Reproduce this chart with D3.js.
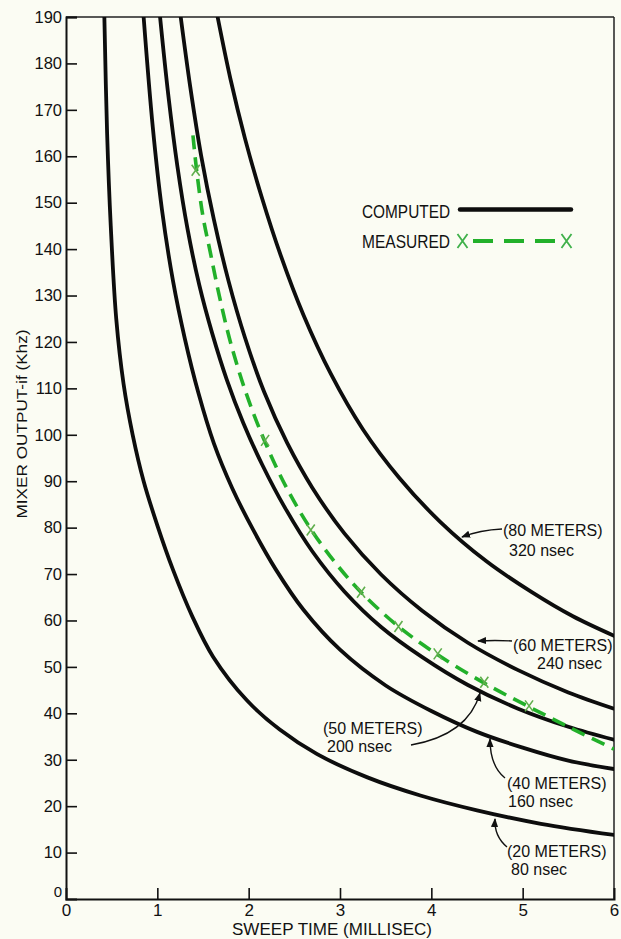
<!DOCTYPE html>
<html>
<head>
<meta charset="utf-8">
<script src="https://cdn.jsdelivr.net/npm/d3@7"></script>
<style>
  html, body { margin: 0; padding: 0; background: #fbfcf3; }
  svg { display: block; }
  text { font-family: "Liberation Sans", Arial, sans-serif; fill: #111; }
</style>
</head>
<body>
<svg id="chart" width="621" height="939"></svg>
<script>
// ---------- data ----------
const xTicks = [0, 1, 2, 3, 4, 5, 6];
const yTicks = [10,20,30,40,50,60,70,80,90,100,110,120,130,140,150,160,170,180,190];

// computed curves: sweep time (ms) vs mixer output if (kHz)
const t20 = [0.42, 0.45, 0.49, 0.55, 0.63, 0.73, 0.85, 1.00, 1.17, 1.38, 1.61, 1.98, 2.34, 2.75, 3.30, 3.88, 4.50, 5.20, 6.00];
const f20 = [190, 165, 145, 125, 111, 100, 90, 80.5, 71, 61, 52.2, 42.8, 36.5, 31.2, 26.2, 22.3, 19.1, 16.2, 13.8];

const t40 = [0.85, 0.95, 1.05, 1.17, 1.30, 1.45, 1.62, 1.82, 2.05, 2.30, 2.60, 3.00, 3.50, 4.00, 4.50, 5.00, 5.50, 6.00];
const f40 = [190, 166.3, 148.6, 133.3, 120.8, 109.0, 98.1, 88.5, 79.5, 70.9, 62.3, 53.7, 46.0, 40.5, 36.0, 32.6, 29.8, 28.0];

const t50 = [1.03, 1.12, 1.22, 1.33, 1.46, 1.60, 1.76, 1.94, 2.15, 2.40, 2.70, 3.05, 3.45, 3.90, 4.40, 4.95, 5.50, 6.00];
const f50 = [190, 173.2, 157.8, 144.4, 132.2, 121.9, 111.9, 102.6, 93.5, 84.2, 74.8, 66.2, 58.6, 52.1, 46.1, 41.0, 37.1, 34.3];

const t60 = [1.256, 1.36, 1.48, 1.62, 1.78, 1.96, 2.17, 2.42, 2.70, 3.05, 3.45, 3.90, 4.40, 4.95, 5.50, 6.00];
const f60 = [190, 175.0, 160.1, 146.3, 133.1, 120.9, 109.2, 98.3, 88.5, 78.7, 69.9, 62.1, 55.2, 49.3, 44.5, 41.0];

const t80 = [1.66, 1.80, 1.96, 2.14, 2.35, 2.60, 2.90, 3.25, 3.65, 4.10, 4.60, 5.10, 5.55, 6.00];
const f80 = [190, 176.7, 163.8, 151.4, 138.7, 125.8, 113.1, 101.2, 90.7, 81.2, 72.8, 66.1, 60.9, 56.7];

// measured (dashed) line and its X points
const tMeasLine = [1.39, 1.43, 1.50, 1.58, 1.68, 1.80, 1.97, 2.18, 2.42, 2.68, 2.95, 3.23, 3.64, 4.07, 4.58, 5.07, 5.55, 6.00];
const fMeasLine = [164.5, 157, 147, 139.3, 129.8, 120.0, 109.1, 98.4, 88.4, 79.7, 72.4, 66.1, 58.7, 52.6, 46.5, 41.4, 36.6, 32.3];
const tMeasPts = [1.42, 2.18, 2.68, 3.23, 3.64, 4.07, 4.58, 5.07];
const fMeasPts = [157, 98.8, 79.5, 66.1, 58.7, 52.8, 46.7, 41.6];

const curveNames = ["(20 METERS)", "(40 METERS)", "(50 METERS)", "(60 METERS)", "(80 METERS)"];
const curveDelays = ["80 nsec", "160 nsec", "200 nsec", "240 nsec", "320 nsec"];

// ---------- drawing ----------
const svg = d3.select("#chart");
const L = 66, R = 614, T = 17, B = 899;
const x = d3.scaleLinear().domain([0, 6]).range([L, R]);
const y = d3.scaleLinear().domain([0, 190]).range([B, T]);

const zip = (ts, fs) => ts.map((t, i) => [t, fs[i]]);
const line = d3.line().x(d => x(d[0])).y(d => y(d[1])).curve(d3.curveCatmullRom.alpha(0.5));

const defs = svg.append("defs");
defs.append("clipPath").attr("id", "clip")
  .append("rect").attr("x", L).attr("y", T).attr("width", R - L).attr("height", B - T);
defs.append("marker").attr("id", "arr").attr("viewBox", "0 0 10 10")
  .attr("refX", 9).attr("refY", 5).attr("markerWidth", 9).attr("markerHeight", 9)
  .attr("markerUnits", "userSpaceOnUse").attr("orient", "auto")
  .append("path").attr("d", "M0,1 L10,5 L0,9 Z").attr("fill", "#111");

// frame
svg.append("line").attr("x1", L).attr("x2", R).attr("y1", T).attr("y2", T).attr("stroke", "#222").attr("stroke-width", 1.5);
svg.append("line").attr("x1", R).attr("x2", R).attr("y1", T).attr("y2", B).attr("stroke", "#222").attr("stroke-width", 1.5);

// y axis
const yAxis = d3.axisLeft(y).tickValues(yTicks).tickSize(-11).tickPadding(15).tickFormat(d3.format("d"));
const gy = svg.append("g").attr("transform", `translate(${L},0)`).call(yAxis);
gy.select(".domain").attr("stroke", "#111").attr("stroke-width", 2);
gy.selectAll(".tick line").attr("stroke", "#111").attr("stroke-width", 1.6);
gy.selectAll(".tick text").attr("font-size", 16.5).attr("fill", "#111")
  .attr("font-family", "Liberation Sans, Arial, sans-serif").attr("dx", 11);
// y zero label
svg.append("text").attr("x", L - 4).attr("y", B - 2).attr("text-anchor", "end")
  .attr("font-size", 15).text("0");

// x axis
const xAxis = d3.axisBottom(x).tickValues(xTicks).tickSize(-11).tickPadding(12).tickFormat(d3.format("d"));
const gx = svg.append("g").attr("transform", `translate(0,${B})`).call(xAxis);
gx.select(".domain").attr("stroke", "#111").attr("stroke-width", 2);
gx.selectAll(".tick line").attr("stroke", "#111").attr("stroke-width", 1.6)
  .attr("opacity", d => (d === 0 || d === 6) ? 0 : 1);
gx.selectAll(".tick text").attr("font-size", 17).attr("fill", "#111")
  .attr("font-family", "Liberation Sans, Arial, sans-serif").attr("dy", "0.3em");

// axis titles
svg.append("text").attr("x", 232).attr("y", 935)
  .attr("font-size", 16.5).attr("textLength", 200).attr("lengthAdjust", "spacingAndGlyphs")
  .text("SWEEP TIME (MILLISEC)");
svg.append("text").attr("transform", "translate(27,424) rotate(-90)").attr("text-anchor", "middle")
  .attr("font-size", 15.5).attr("textLength", 189).attr("lengthAdjust", "spacingAndGlyphs")
  .text("MIXER OUTPUT-if (Khz)");

// curves
const plot = svg.append("g").attr("clip-path", "url(#clip)");
const computed = [zip(t20, f20), zip(t40, f40), zip(t50, f50), zip(t60, f60), zip(t80, f80)];
plot.selectAll("path.comp").data(computed).join("path").attr("class", "comp")
  .attr("d", line).attr("fill", "none").attr("stroke", "#0d0d0d").attr("stroke-width", 3.8)
  .attr("stroke-linecap", "round");

const green = "#22b02a";
plot.append("path").datum(zip(tMeasLine, fMeasLine)).attr("d", line)
  .attr("fill", "none").attr("stroke", green).attr("stroke-width", 3.6)
  .attr("stroke-dasharray", "14,8");

const xMark = "M-4,-5.5 L4,5.5 M4,-5.5 L-4,5.5";
plot.selectAll("path.mx").data(zip(tMeasPts, fMeasPts)).join("path").attr("class", "mx")
  .attr("transform", d => `translate(${x(d[0])},${y(d[1])})`).attr("d", xMark)
  .attr("stroke", "#5fae4c").attr("stroke-width", 1.6).attr("fill", "none");

// legend
const lg = svg.append("g");
lg.append("text").attr("x", 362).attr("y", 218).attr("font-size", 19)
  .attr("textLength", 88).attr("lengthAdjust", "spacingAndGlyphs").text("COMPUTED");
lg.append("line").attr("x1", 460).attr("x2", 571).attr("y1", 209.5).attr("y2", 209.5)
  .attr("stroke", "#0d0d0d").attr("stroke-width", 4.5).attr("stroke-linecap", "round");
lg.append("text").attr("x", 362).attr("y", 248).attr("font-size", 19)
  .attr("textLength", 88).attr("lengthAdjust", "spacingAndGlyphs").text("MEASURED");
lg.append("line").attr("x1", 473).attr("x2", 560).attr("y1", 241).attr("y2", 241)
  .attr("stroke", green).attr("stroke-width", 4).attr("stroke-dasharray", "20,11");
[462.5, 566.5].forEach(cx => {
  lg.append("path").attr("transform", `translate(${cx},241)`).attr("d", "M-5,-7 L5,7 M5,-7 L-5,7")
    .attr("stroke", "#3fb04a").attr("stroke-width", 1.8).attr("fill", "none");
});

// curve labels with arrows
const labels = [
  { i: 4, x: 503, y: 536, x2: 509, dy: 20, arrow: "M502,529 Q480,530 462,537" },
  { i: 3, x: 513, y: 651, x2: 537, dy: 18, arrow: "M512,641 Q495,640 478,641" },
  { i: 2, x: 323, y: 734, x2: 327, dy: 18, arrow: "M411,745 Q468,735 480,693" },
  { i: 1, x: 507, y: 789, x2: 508, dy: 18, arrow: "M505,778 Q490,766 490,739" },
  { i: 0, x: 507, y: 857, x2: 511, dy: 18, arrow: "M507,847 Q494,836 495,819" }
];
labels.forEach(l => {
  svg.append("text").attr("x", l.x).attr("y", l.y).attr("font-size", 16).text(curveNames[l.i]);
  svg.append("text").attr("x", l.x2).attr("y", l.y + l.dy).attr("font-size", 16).text(curveDelays[l.i]);
  svg.append("path").attr("d", l.arrow).attr("fill", "none").attr("stroke", "#111")
    .attr("stroke-width", 1.4).attr("marker-end", "url(#arr)");
});
</script>
</body>
</html>
